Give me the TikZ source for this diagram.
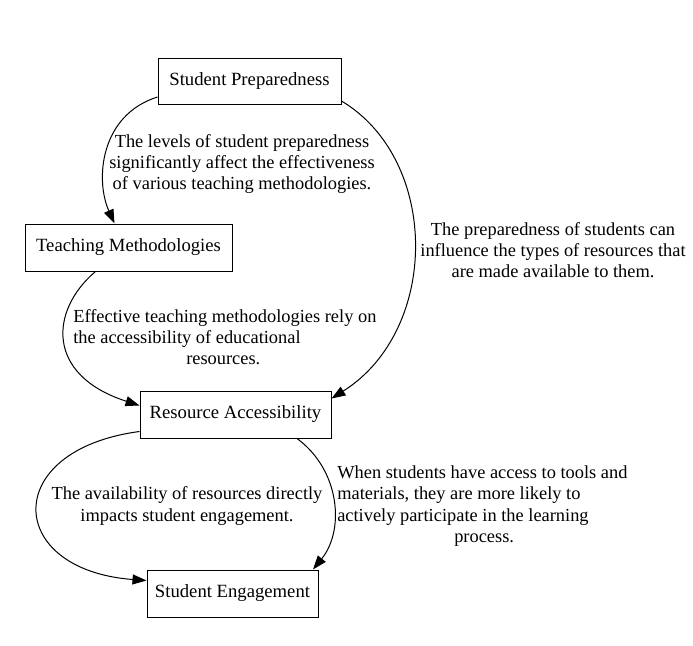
\documentclass[tikz,border=0pt]{standalone}
\usepackage{fontspec}
\setmainfont{Liberation Serif}
\usetikzlibrary{arrows.meta,calc}
\tikzset{
  box/.style={draw, line width=0.75pt, inner sep=0pt, font=\fontsize{14}{16}\selectfont},
  lbl/.style={inner sep=0pt, font=\fontsize{13.8}{16}\selectfont},
  conn/.style={line width=0.75pt, -{Triangle[length=10.5pt,width=7.5pt]}}
}
\begin{document}
\begin{tikzpicture}[x=0.75pt,y=-0.75pt]
\useasboundingbox (0,0) rectangle (693,646);
\node[box, minimum width=137.25pt, minimum height=34.5pt] (sp) at (249.5,81) {Student Preparedness};
\node[box, minimum width=155.25pt, minimum height=35.25pt] (tm) at (128.5,247.5) {Teaching Methodologies};
\node[box, minimum width=143.25pt, minimum height=35.25pt] (ra) at (235.5,414.5) {Resource Accessibility};
\node[box, minimum width=128.25pt, minimum height=35.25pt] (se) at (232.5,593.5) {Student Engagement};

\draw[conn] ($(sp.west)+(0,16)$) .. controls (100,115) and (95,180) .. ($(tm.north)+(-14,0)$);
\draw[conn] ($(sp.east)+(0,20)$) .. controls (440,160) and (440,330) .. ($(ra.east)+(0,-16)$);
\draw[conn] ($(tm.south)+(-33,0)$) .. controls (50,310) and (45,375) .. ($(ra.west)+(0,-9)$);
\draw[conn] ($(ra.west)+(0,17)$) .. controls (0,450) and (5,570) .. ($(se.west)+(0,-13)$);
\draw[conn] ($(ra.south)+(61.5,0)$) .. controls (340,470) and (345,530) .. ($(se.north)+(80.5,0)$);

\node[lbl, align=center] (l1) at (242,164) {The levels of student preparedness\\significantly affect the effectiveness\\of various teaching methodologies.};
\node[lbl, align=center] (l2) at (553,250) {The preparedness of students can\\influence the types of resources that\\are made available to them.};
\node[lbl, align=left, anchor=west] (l3) at (73,337) {Effective teaching methodologies rely on\\the accessibility of educational\\\hspace*{84.75pt}resources.};
\node[lbl, align=center] (l4) at (187,506) {The availability of resources directly\\impacts student engagement.};
\node[lbl, align=left, anchor=west] (l5) at (337,506) {When students have access to tools and\\materials, they are more likely to\\actively participate in the learning\\\hspace*{87.75pt}process.};
\end{tikzpicture}
\end{document}
